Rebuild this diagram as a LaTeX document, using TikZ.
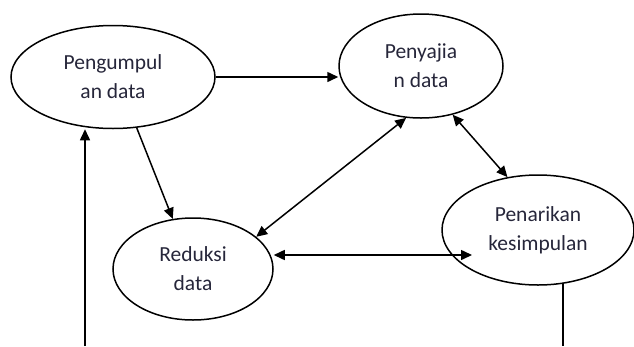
\documentclass[tikz,border=0pt]{standalone}
\usepackage{fontspec}
\setmainfont{Carlito}
\usetikzlibrary{shapes.geometric,arrows.meta}
\definecolor{teks}{RGB}{38,38,58}

\begin{document}
	\begin{tikzpicture}[x=1pt, y=-1pt,
		tahap/.style={ellipse, draw, line width=1.5pt, inner sep=0pt, align=center,
			text=teks, font=\fontsize{21.5}{29}\selectfont},
		panah/.style={line width=1.5pt, -{Triangle[length=11pt,width=10pt]}},
		panahdua/.style={line width=1.5pt, {Triangle[length=11pt,width=10pt]}-{Triangle[length=11pt,width=10pt]}}]
		\useasboundingbox (0,0) rectangle (634,346);
		
		\node [tahap, minimum width=204pt, minimum height=103pt] (pengumpulan) at (113,77) {Pengumpul\\an data};
		\node [tahap, minimum width=164pt, minimum height=104pt] (penyajian) at (421,66) {Penyajia\\n data};
		\node [tahap, minimum width=160pt, minimum height=102pt] (reduksi) at (193,269) {Reduksi\\data};
		\node [tahap, minimum width=192pt, minimum height=110pt] (penarikan) at (538,230) {Penarikan\\kesimpulan};
		
		\coordinate (kanan) at ([xshift=-66pt, yshift=-25pt]penarikan.center);
		\coordinate (bawah) at (85,346);
		
		\draw [panah] (pengumpulan.east) -- (pengumpulan.east -| penyajian.west);
		\draw [panah] (pengumpulan.-65) -- (reduksi.112);
		\draw [panahdua] (reduksi.27) -- (penyajian.254);
		\draw [panahdua] (penyajian.-57) -- (penarikan.120);
		\draw [panahdua] (reduksi.east |- kanan) -- (kanan);
		\draw [panah] (bawah) -- (bawah |- pengumpulan.south);
		\draw [line width=1.5pt] (penarikan.-65) -- (penarikan.-65 |- bawah);
	\end{tikzpicture}
\end{document}
